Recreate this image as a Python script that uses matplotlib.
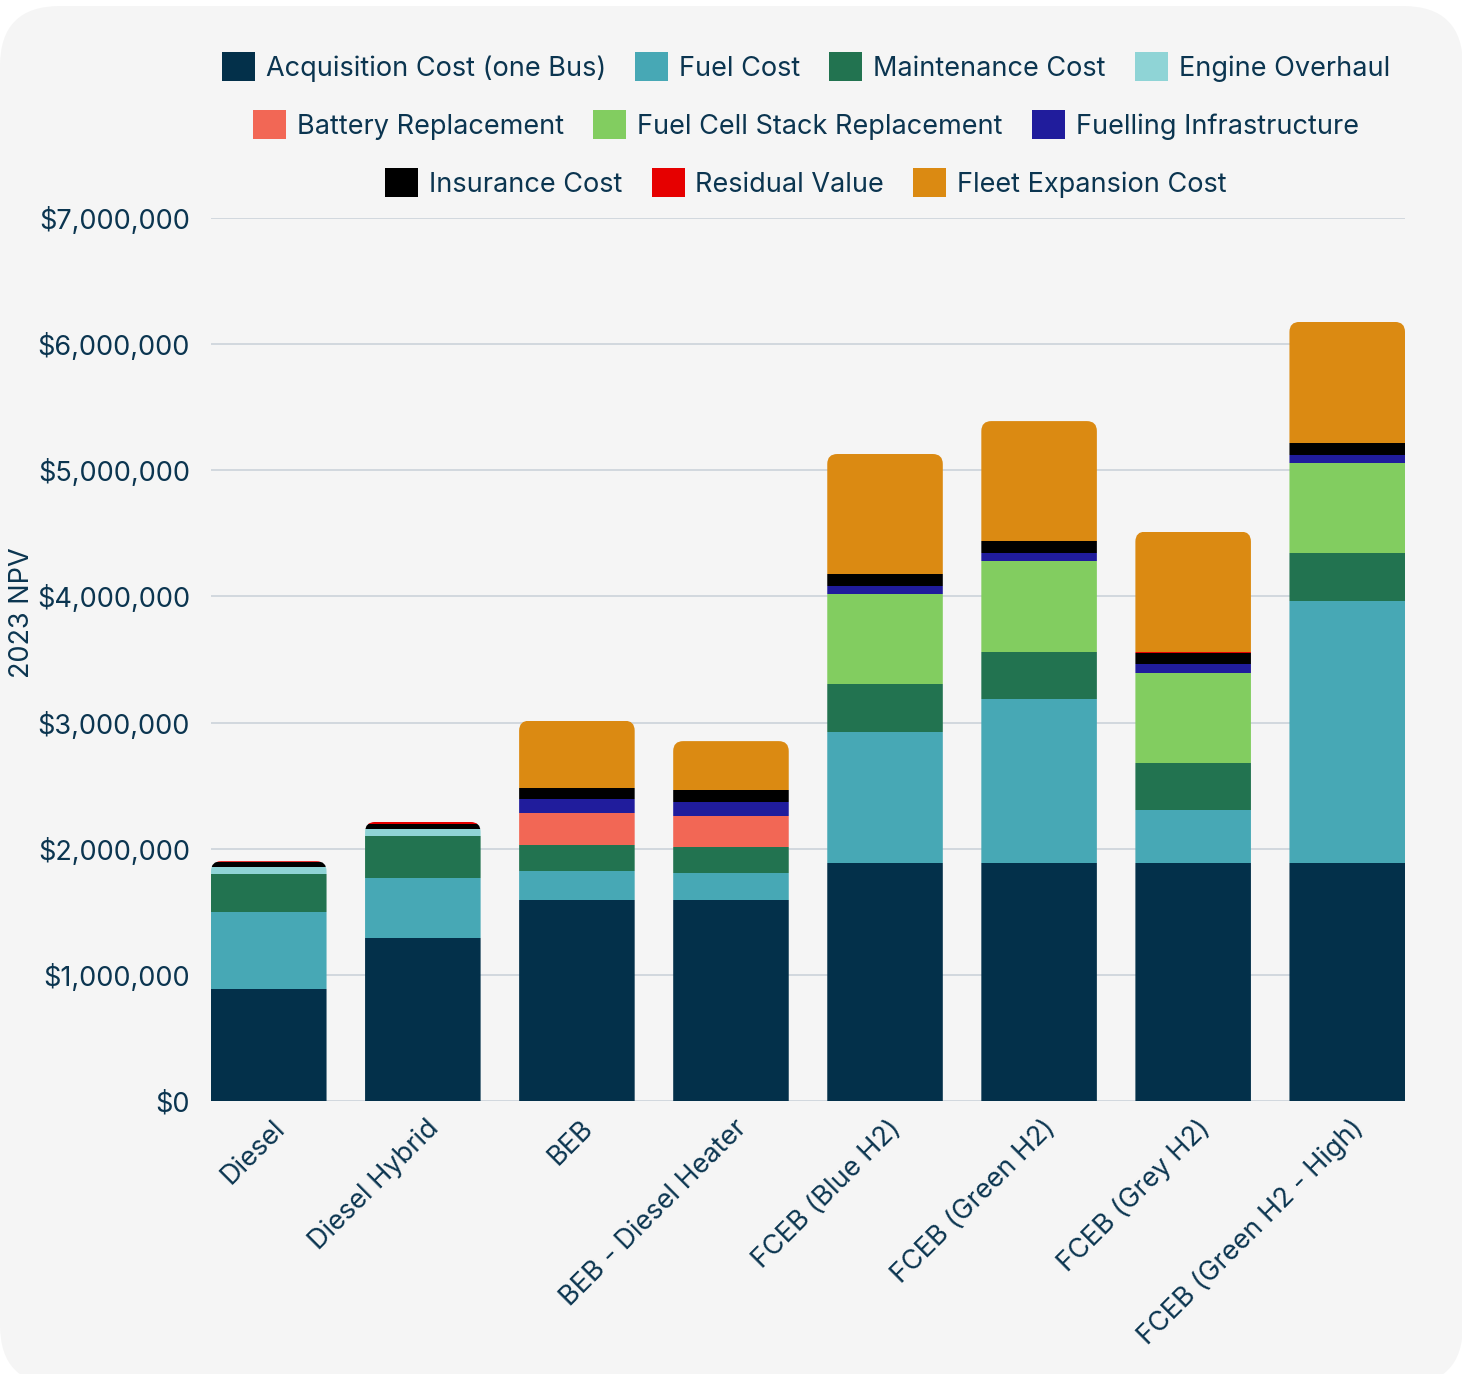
import matplotlib
matplotlib.use("Agg")
import matplotlib.pyplot as plt
import numpy as np
from matplotlib.patches import FancyBboxPatch, Patch
from matplotlib.transforms import ScaledTranslation
from matplotlib.ticker import FuncFormatter

# data (values in $ million)
categories = ["Diesel", "Diesel Hybrid", "BEB", "BEB - Diesel Heater",
              "FCEB (Blue H2)", "FCEB (Green H2)", "FCEB (Grey H2)",
              "FCEB (Green H2 - High)"]
acquisition = [0.888, 1.292, 1.594, 1.594, 1.887, 1.887, 1.887, 1.887]
fuel = [0.610, 0.476, 0.229, 0.214, 1.038, 1.300, 0.420, 2.077]
maintenance = [0.302, 0.333, 0.207, 0.206, 0.381, 0.373, 0.373, 0.380]
overhaul = [0.055, 0.055, 0, 0, 0, 0, 0, 0]
battery = [0, 0, 0.253, 0.245, 0, 0, 0, 0]
fc_stack = [0, 0, 0, 0, 0.713, 0.721, 0.713, 0.714]
infrastructure = [0, 0, 0.111, 0.111, 0.064, 0.063, 0.070, 0.063]
insurance = [0.038, 0.043, 0.087, 0.095, 0.095, 0.095, 0.088, 0.096]
residual = [0.008, 0.013, 0, 0, 0, 0, 0.008, 0]
fleet = [0, 0, 0.534, 0.388, 0.951, 0.951, 0.955, 0.959]

series = [
    ("Acquisition Cost (one Bus)", acquisition, "#03304a"),
    ("Fuel Cost", fuel, "#47a8b5"),
    ("Maintenance Cost", maintenance, "#227350"),
    ("Engine Overhaul", overhaul, "#8fd4d6"),
    ("Battery Replacement", battery, "#f26755"),
    ("Fuel Cell Stack Replacement", fc_stack, "#82cd60"),
    ("Fuelling Infrastructure", infrastructure, "#201c9c"),
    ("Insurance Cost", insurance, "#000000"),
    ("Residual Value", residual, "#e60000"),
    ("Fleet Expansion Cost", fleet, "#db8a12"),
]
legend_rows = [[0, 1, 2, 3], [4, 5, 6], [7, 8, 9]]

text_color = "#0b3550"
fs = 19.5
plt.rcParams["font.family"] = ["Inter", "DejaVu Sans"]
plt.rcParams["font.size"] = fs

fig = plt.figure(figsize=(14.62, 13.74), dpi=100)
fig.patch.set_facecolor("white")

# rounded grey panel
panel = FancyBboxPatch((0, -0.11), 14.63, 13.79, boxstyle="round,pad=0,rounding_size=0.6",
                       transform=fig.dpi_scale_trans, facecolor="#f5f5f5",
                       edgecolor="none", zorder=-10)
fig.patches.append(panel)

ax = fig.add_axes([211 / 1462, 1 - 1101 / 1374, (1405 - 211) / 1462, (1101 - 218) / 1374])
ax.patch.set_visible(False)

x = np.arange(len(categories))
width = 0.75
totals = np.zeros(len(categories))
bars_all = []
for name, vals, color in series:
    v = np.array(vals) * 1e6
    bars = ax.bar(x, v, width, bottom=totals, color=color, linewidth=0, label=name, zorder=3)
    bars_all.append(bars)
    totals += v

ax.set_xlim(-0.5 * width, len(categories) - 1 + 0.5 * width)
ax.set_ylim(0, 7e6)

# rounded top corners on each stack
px_per_x = (1405 - 211) / (len(categories) - 1 + width)
px_per_y = (1101 - 218) / 7e6
radius = 10
rx = radius / px_per_x
ry = radius / px_per_y
for i in range(len(categories)):
    clip = FancyBboxPatch((x[i] - width / 2, -1e6), width, totals[i] + 1e6,
                          boxstyle=f"round,pad=0,rounding_size={rx}",
                          mutation_aspect=ry / rx, transform=ax.transData)
    for bars in bars_all:
        bars[i].set_clip_path(clip)

ax.yaxis.set_major_locator(plt.MultipleLocator(1e6))
ax.yaxis.set_major_formatter(FuncFormatter(lambda v, p: f"${v:,.0f}"))
ax.grid(axis="y", color="#ccd3da", linewidth=1.2, zorder=0)
for s in ax.spines.values():
    s.set_visible(False)
ax.tick_params(axis="y", length=0, pad=15, colors=text_color, labelsize=fs)
ax.tick_params(axis="x", length=0, pad=10, colors=text_color, labelsize=fs)

ax.set_xticks(x)
ax.set_xticklabels(categories, rotation=45, ha="right", va="top", rotation_mode="anchor")
for lab in ax.get_xticklabels():
    lab.set_transform(lab.get_transform() + ScaledTranslation(0.03, 0, fig.dpi_scale_trans))

fig.text(22 / 1462, 1 - 613 / 1374, "2023 NPV", rotation=90, ha="center", va="center",
         color=text_color, fontsize=fs)

# legend, three centred rows
row_y = [67, 125, 183]
for row, yy in zip(legend_rows, row_y):
    handles = [Patch(facecolor=series[k][2], edgecolor="none") for k in row]
    labels = [series[k][0] for k in row]
    leg = fig.legend(handles, labels, loc="center", bbox_to_anchor=(806 / 1462, 1 - yy / 1374),
                     ncol=len(row), frameon=False, fontsize=fs, handlelength=1.22,
                     handleheight=1.22, handletextpad=0.4, columnspacing=1.07,
                     borderpad=0, borderaxespad=0)
    for t in leg.get_texts():
        t.set_color(text_color)

fig.savefig("out.png", dpi=100, facecolor=fig.get_facecolor())
